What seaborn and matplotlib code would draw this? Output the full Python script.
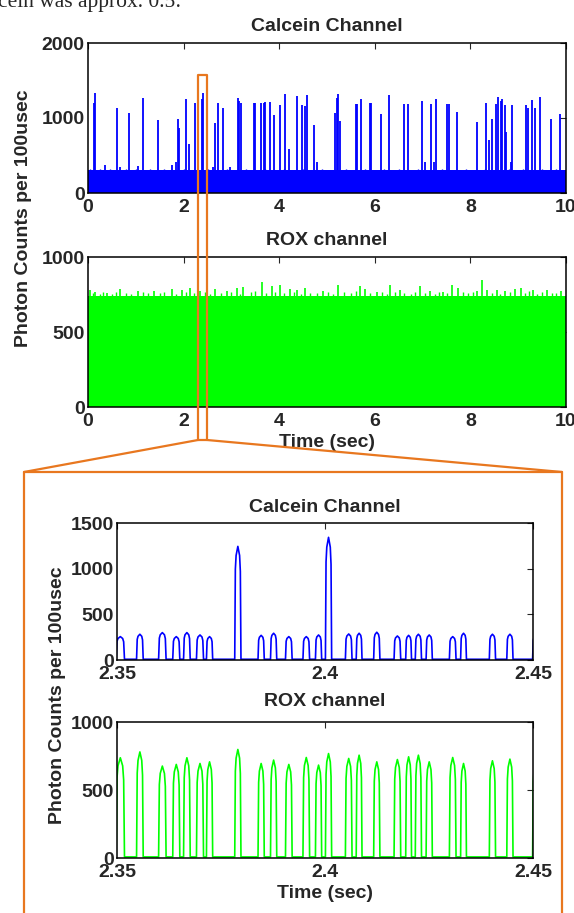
import numpy as np
import pandas as pd
import matplotlib
matplotlib.use("Agg")
import matplotlib.pyplot as plt
import seaborn as sns
from matplotlib.lines import Line2D

# ---- Overview (0-10 s) ----
# Calcein: dense background band + burst spikes (time s, peak counts)
calcein_band = 305
calcein_spike_t = [0.13, 0.14, 0.60, 0.86, 1.15, 1.46, 1.88, 1.90, 2.05, 2.11, 2.23, 2.38, 2.40,
                   2.65, 2.72, 2.82, 3.13, 3.16, 3.21, 3.47, 3.49, 3.61, 3.68, 3.71, 3.81, 3.90,
                   4.01, 4.13, 4.20, 4.38, 4.47, 4.54, 4.58, 4.72, 4.80, 5.16, 5.20, 5.22, 5.28,
                   5.60, 5.63, 5.72, 5.91, 5.93, 6.14, 6.29, 6.62, 6.70, 6.98, 7.04, 7.18, 7.24,
                   7.29, 7.51, 7.56, 7.71, 8.14, 8.33, 8.39, 8.46, 8.54, 8.58, 8.63, 8.67, 8.72,
                   8.75, 8.84, 8.88, 9.17, 9.21, 9.29, 9.36, 9.46, 9.69, 9.88,
                   0.36, 0.67, 1.05, 1.75, 1.84, 2.62, 2.97]
calcein_spike_h = [1200, 1327, 1137, 1062, 1270, 969, 982, 870, 1248, 659, 1204, 1248, 1336,
                   929, 1195, 1128, 1270, 1226, 1204, 1204, 1195, 1204, 1200, 1217, 1217, 1040,
                   1168, 1323, 584, 1292, 1168, 1159, 1301, 903, 407, 1071, 1270, 1319, 956,
                   1181, 1181, 1257, 1204, 1204, 1049, 1305, 1190, 1190, 1230, 407, 1181, 407,
                   1248, 1190, 1190, 1084, 951, 1204, 704, 991, 1181, 1274, 1226, 1248, 1168,
                   814, 407, 1168, 1168, 1137, 1234, 1137, 1279, 991, 1058,
                   371, 350, 358, 371, 415, 350, 345]
# small teeth on the top of the calcein band
calcein_edge_t = [0.05, 0.25, 0.45, 0.8, 1.0, 1.3, 1.6, 2.0, 2.5, 2.9, 3.3, 3.7, 4.1, 4.5,
                  4.9, 5.4, 5.8, 6.2, 6.5, 6.9, 7.4, 7.9, 8.3, 8.8, 9.1, 9.5, 9.8]
calcein_edge_h = [322, 318, 325, 320, 316, 324, 319, 323, 318, 326, 321, 317, 325, 320,
                  322, 318, 324, 320, 326, 319, 323, 318, 325, 321, 317, 324, 320]

# ROX: dense band + upward excursions
rox_band = 742
rox_spike_t = [0.04, 0.15, 0.40, 0.67, 1.05, 1.38, 1.75, 1.96, 2.13, 2.34, 2.66, 2.90, 3.11,
               3.25, 3.63, 3.84, 4.02, 4.23, 4.37, 4.54, 4.92, 5.24, 5.69, 5.79, 6.04, 6.32,
               6.53, 6.95, 7.15, 7.43, 7.61, 7.75, 8.13, 8.24, 8.34, 8.55, 8.72, 8.93, 9.05,
               9.30, 9.60, 9.90]
rox_spike_h = [780, 769, 760, 787, 773, 773, 787, 780, 793, 773, 787, 776, 793,
               800, 831, 804, 813, 787, 780, 793, 776, 813, 809, 787, 769, 813,
               780, 807, 776, 769, 813, 793, 776, 847, 780, 780, 773, 787, 793,
               782, 782, 771]
# smaller teeth along the ROX band top
rox_edge_t = [0.1, 0.25, 0.32, 0.5, 0.58, 0.8, 0.9, 1.15, 1.25, 1.5, 1.6, 1.85, 2.05, 2.22,
              2.45, 2.55, 2.78, 3.0, 3.18, 3.4, 3.5, 3.72, 3.92, 4.1, 4.3, 4.46, 4.65, 4.8,
              5.02, 5.12, 5.35, 5.5, 5.6, 5.9, 6.15, 6.25, 6.42, 6.62, 6.75, 6.85, 7.05, 7.25,
              7.35, 7.52, 7.85, 7.95, 8.05, 8.45, 8.62, 8.82, 9.15, 9.22, 9.4, 9.5, 9.7, 9.8]
rox_edge_h = [758, 752, 765, 756, 768, 760, 754, 766, 757, 762, 770, 755, 764, 758,
              766, 753, 762, 768, 756, 764, 772, 758, 766, 760, 770, 755, 763, 758,
              768, 756, 764, 759, 771, 757, 765, 753, 769, 760, 756, 766, 762, 754,
              768, 759, 765, 757, 770, 761, 756, 767, 760, 771, 755, 764, 758, 763]

# ---- Zoom (2.35-2.45 s): individual bursts ----
burst_start = [2.3498, 2.3547, 2.3600, 2.3634, 2.3660, 2.3691, 2.3715, 2.3783, 2.3839,
               2.3869, 2.3905, 2.3947, 2.3977, 2.4001, 2.4049, 2.4075, 2.4117, 2.4166,
               2.4194, 2.4217, 2.4243, 2.4299, 2.4326, 2.4395, 2.4437, 2.4499]
burst_end = [2.3518, 2.3563, 2.3618, 2.3651, 2.3676, 2.3708, 2.3730, 2.3798, 2.3854,
             2.3884, 2.3921, 2.3963, 2.3992, 2.4016, 2.4065, 2.4089, 2.4132, 2.4182,
             2.4208, 2.4232, 2.4258, 2.4315, 2.4340, 2.4410, 2.4452, 2.4515]
calcein_peak = [256, 282, 300, 256, 300, 274, 256, 1244, 270, 293, 256, 256, 274,
                1343, 285, 293, 304, 263, 270, 282, 274, 256, 293, 282, 282, 270]
rox_peak = [737, 780, 676, 688, 737, 695, 707, 798, 695, 720, 688, 739, 683,
            768, 732, 756, 707, 724, 744, 756, 707, 739, 695, 715, 727, 700]
zoom_baseline = 8

top_xticks = [0, 2, 4, 6, 8, 10]
zoom_xticks = [2.35, 2.4, 2.45]
zoom_xticklabels = ["2.35", "2.4", "2.45"]

BLUE = "#0000ff"
GREEN = "#00ff00"
ORANGE = "#e8771f"

# burst shape (fraction of width, fraction of peak)
prof_w = [0.0, 0.1, 0.22, 0.5, 0.78, 0.9, 1.0]
prof_v = [0.0, 0.8, 0.92, 1.0, 0.92, 0.78, 0.0]


def burst_trace(peaks):
    t, v = [2.3490], [zoom_baseline]
    for s, e, p in zip(burst_start, burst_end, peaks):
        for fw, fv in zip(prof_w, prof_v):
            t.append(s + fw * (e - s))
            v.append(max(fv * p, zoom_baseline))
    t.append(2.4520)
    v.append(zoom_baseline)
    return pd.DataFrame({"t": t, "counts": v})


sns.set_style("white")
plt.rcParams["font.family"] = ["Liberation Sans", "DejaVu Sans"]
plt.rcParams["font.weight"] = "bold"
plt.rcParams["axes.titleweight"] = "bold"
plt.rcParams["axes.labelweight"] = "bold"

W, H = 574, 913
fig = plt.figure(figsize=(W / 100, H / 100), dpi=100)


def box(l, t, r, b):
    return [l / W, 1 - b / H, (r - l) / W, (b - t) / H]


ax1 = fig.add_axes(box(88, 43, 566, 193))
ax2 = fig.add_axes(box(88, 257, 566, 407))
ax3 = fig.add_axes(box(117, 523, 533, 660))
ax4 = fig.add_axes(box(117, 722, 533, 858))

# overview panels
ax1.fill_between([0, 10], 0, calcein_band, color=BLUE, lw=0)
ax1.vlines(calcein_edge_t, 0, calcein_edge_h, color=BLUE, lw=1.0)
ax1.vlines(calcein_spike_t, 0, calcein_spike_h, color=BLUE, lw=1.3)
ax2.fill_between([0, 10], 0, rox_band, color=GREEN, lw=0)
ax2.vlines(rox_edge_t, 0, rox_edge_h, color=GREEN, lw=1.0)
ax2.vlines(rox_spike_t, 0, rox_spike_h, color=GREEN, lw=1.2)

# zoom panels
sns.lineplot(data=burst_trace(calcein_peak), x="t", y="counts", ax=ax3, color=BLUE,
             lw=1.2, estimator=None, sort=False)
sns.lineplot(data=burst_trace(rox_peak), x="t", y="counts", ax=ax4, color=GREEN,
             lw=1.2, estimator=None, sort=False)

for ax in (ax1, ax2):
    ax.set_xlim(0, 10)
    ax.set_xticks(top_xticks)
    ax.set_xticklabels([str(v) for v in top_xticks])
ax1.set_ylim(0, 2000)
ax1.set_yticks([0, 1000, 2000])
ax2.set_ylim(0, 1000)
ax2.set_yticks([0, 500, 1000])

for ax in (ax3, ax4):
    ax.set_xlim(2.35, 2.45)
    ax.set_xticks(zoom_xticks)
    ax.set_xticklabels(zoom_xticklabels)
ax3.set_ylim(0, 1500)
ax3.set_yticks([0, 500, 1000, 1500])
ax4.set_ylim(0, 1000)
ax4.set_yticks([0, 500, 1000])

for ax in (ax1, ax2, ax3, ax4):
    ax.set_xlabel("")
    ax.set_ylabel("")
    ax.tick_params(direction="in", top=True, right=True, length=4, width=0.8,
                   labelsize=14)
    ax.tick_params(axis="y", pad=2.5)
    ax.tick_params(axis="x", pad=4)
    for lbl in ax.get_xticklabels() + ax.get_yticklabels():
        lbl.set_fontweight("bold")
    for sp in ax.spines.values():
        sp.set_visible(True)
        sp.set_linewidth(1.1)
        sp.set_color("black")

ax1.set_title("Calcein Channel", fontsize=14, fontweight="bold", pad=8.6)
ax2.set_title("ROX channel", fontsize=14, fontweight="bold", pad=8.6)
ax3.set_title("Calcein Channel", fontsize=14, fontweight="bold", pad=8.0)
ax4.set_title("ROX channel", fontsize=14, fontweight="bold", pad=11.5)
ax2.set_xlabel("Time (sec)", fontsize=14, fontweight="bold", labelpad=3)
ax4.set_xlabel("Time (sec)", fontsize=14, fontweight="bold", labelpad=3)

fig.text(24 / W, 1 - 218 / H, "Photon Counts per 100usec", rotation=90, fontsize=14,
         fontweight="bold", ha="center", va="center")
fig.text(57 / W, 1 - 695 / H, "Photon Counts per 100usec", rotation=90, fontsize=14,
         fontweight="bold", ha="center", va="center")

# cropped line of document text at the very top
fig.text(-2 / W, 1 - 7 / H, "cein was approx. 0.5:", fontsize=15.5, fontweight="normal",
         family=["Liberation Serif", "DejaVu Serif"], ha="left", va="baseline")


# orange zoom indicator
def px_line(xs, ys):
    fig.add_artist(Line2D([x / W for x in xs], [1 - y / H for y in ys], color=ORANGE,
                          lw=1.6, transform=fig.transFigure, zorder=10))


px_line([24, 24, 198, 198, 207, 207, 562, 562],
        [920, 472, 440, 75, 75, 440, 472, 920])
px_line([24, 562], [472, 472])
px_line([198, 207], [440, 440])

fig.savefig("out.png", dpi=100)
